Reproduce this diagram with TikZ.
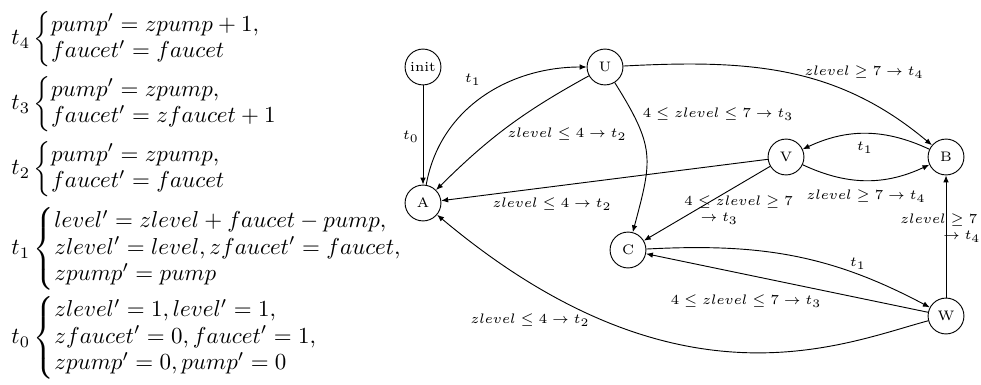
\documentclass[tikz,border=0pt]{standalone}
\usepackage{amsmath,amssymb}
\usetikzlibrary{arrows.meta}
\newcommand{\blk}[2]{$#1\left\{\def\arraystretch{0.96}\begin{array}{@{}l@{}}#2\end{array}\right.$}
\newcommand{\gfont}{\fontsize{6}{7}\selectfont}
\begin{document}
\begin{tikzpicture}[x=0.4348pt,y=0.4348pt,
  st/.style={circle,draw,thin,minimum size=15.6pt,inner sep=0pt,font=\gfont},
  lbl/.style={font=\gfont,inner sep=0pt},
  blkn/.style={anchor=west,inner sep=0pt},
  arr/.style={thin,-{Latex[length=3pt,width=2.4pt]}}]
\useasboundingbox (0,0) rectangle (981,-385);
% left equations
\node[blkn] (b4) at (11,-39) {\blk{t_4}{pump' = zpump + 1,\\ faucet' = faucet}};
\node[blkn] (b3) at (11,-104) {\blk{t_3}{pump' = zpump,\\ faucet' = zfaucet + 1}};
\node[blkn] (b2) at (11,-169) {\blk{t_2}{pump' = zpump,\\ faucet' = faucet}};
\node[blkn] (b1) at (11,-249) {\blk{t_1}{level' = zlevel + faucet - pump,\\ zlevel' = level, zfaucet' = faucet,\\ zpump' = pump}};
\node[blkn] (b0) at (11,-338) {\blk{t_0}{zlevel' = 1, level' = 1,\\ zfaucet' = 0, faucet' = 1,\\ zpump' = 0, pump' = 0}};
% states
\node[st] (init) at (423,-67) {init};
\node[st] (U) at (605,-67) {U};
\node[st] (A) at (423,-203) {A};
\node[st] (V) at (786,-157) {V};
\node[st] (B) at (946,-157) {B};
\node[st] (C) at (628,-250) {C};
\node[st] (W) at (946,-316) {W};
% edges
\draw[arr] (init) -- (A);
\node[lbl] (l0) at (411,-137) {$t_0$};
\draw[arr] (A) to[out=80,in=180] (U);
\node[lbl] (l1) at (473,-80) {$t_1$};
\draw[arr] (U) to[bend right=8] (A);
\node[lbl] (l2) at (567,-134) {$zlevel \leq 4 \rightarrow t_2$};
\draw[arr] (U) to[out=3,in=140] (B);
\node[lbl] (l3) at (864,-72) {$zlevel \geq 7 \rightarrow t_4$};
\draw[arr] (U) to[out=-58,in=75,looseness=1.3] (C);
\node[lbl] (l4) at (718,-114) {$4 \leq zlevel \leq 7 \rightarrow t_3$};
\draw[arr] (V) -- (A);
\node[lbl] (l5) at (552,-204) {$zlevel \leq 4 \rightarrow t_2$};
\draw[arr] (V) -- (C);
\node[lbl,anchor=west,align=left] (l6) at (684,-210) {$4 \leq zlevel \geq 7$\\\hspace*{7pt}$\rightarrow t_3$};
\draw[arr] (B) to[bend right=25] (V);
\node[lbl] (l7) at (865,-148) {$t_1$};
\draw[arr] (V) to[bend right=25] (B);
\node[lbl] (l8) at (866,-196) {$zlevel \geq 7 \rightarrow t_4$};
\draw[arr] (W) -- (B);
\node[lbl,anchor=west,align=left] (l9) at (900,-228) {$zlevel \geq 7$\\\hspace*{18.5pt}$\rightarrow t_4$};
\draw[arr] (C) to[out=3,in=152] (W);
\node[lbl] (l10) at (858,-264) {$t_1$};
\draw[arr] (W) -- (C);
\node[lbl] (l11) at (746,-301) {$4 \leq zlevel \leq 7 \rightarrow t_3$};
\draw[arr] (W) to[out=195,in=-40,out looseness=0.45,in looseness=1.6] (A);
\node[lbl] (l12) at (530,-320) {$zlevel \leq 4 \rightarrow t_2$};
\end{tikzpicture}
\end{document}
